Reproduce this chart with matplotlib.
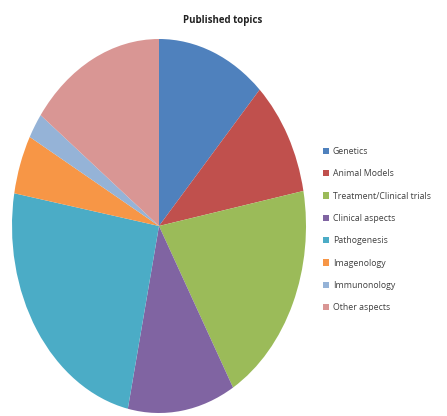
import matplotlib.pyplot as plt
from matplotlib.patches import Patch

# Share of published papers per topic (%)
topics = [
    "Genetics",
    "Animal Models",
    "Treatment/Clinical trials",
    "Clinical aspects",
    "Pathogenesis",
    "Imagenology",
    "Immunonology",
    "Other aspects",
]
shares = [12, 10, 19.6, 11.8, 24.4, 5.1, 2.2, 14.9]
colors = ["#4F81BD", "#C0504D", "#9BBB59", "#8064A2",
          "#4BACC6", "#F79646", "#95B3D7", "#D99694"]

fig = plt.figure(figsize=(4.47, 4.16), dpi=100)
fig.patch.set_facecolor("white")

# Pie is stretched to fill a tall axes, giving the oval shape
ax = fig.add_axes([12 / 447, 3 / 416, 294 / 447, 374 / 416])
ax.pie(shares, colors=colors, startangle=90, counterclock=False,
       wedgeprops=dict(linewidth=0))
ax.set_aspect("auto")
ax.set_xlim(-1, 1)
ax.set_ylim(-1, 1)
ax.axis("off")

fig.text(223 / 447, 1 - 20 / 416, "Published topics", ha="center", va="center",
         fontsize=7, fontweight="bold", family="Open Sans", color="#222222")

handles = [Patch(facecolor=c, edgecolor="none") for c in colors]
fig.legend(handles, topics, loc="upper left",
           bbox_to_anchor=(323 / 447, 1 - 147 / 416),
           frameon=False, labelspacing=1.52,
           handlelength=0.7, handleheight=0.7, handletextpad=0.4,
           borderpad=0, borderaxespad=0,
           prop=dict(family="Open Sans", size=6.3))
for t in fig.legends[0].get_texts():
    t.set_color("#404040")

fig.savefig("out.png", dpi=100, facecolor="white")
